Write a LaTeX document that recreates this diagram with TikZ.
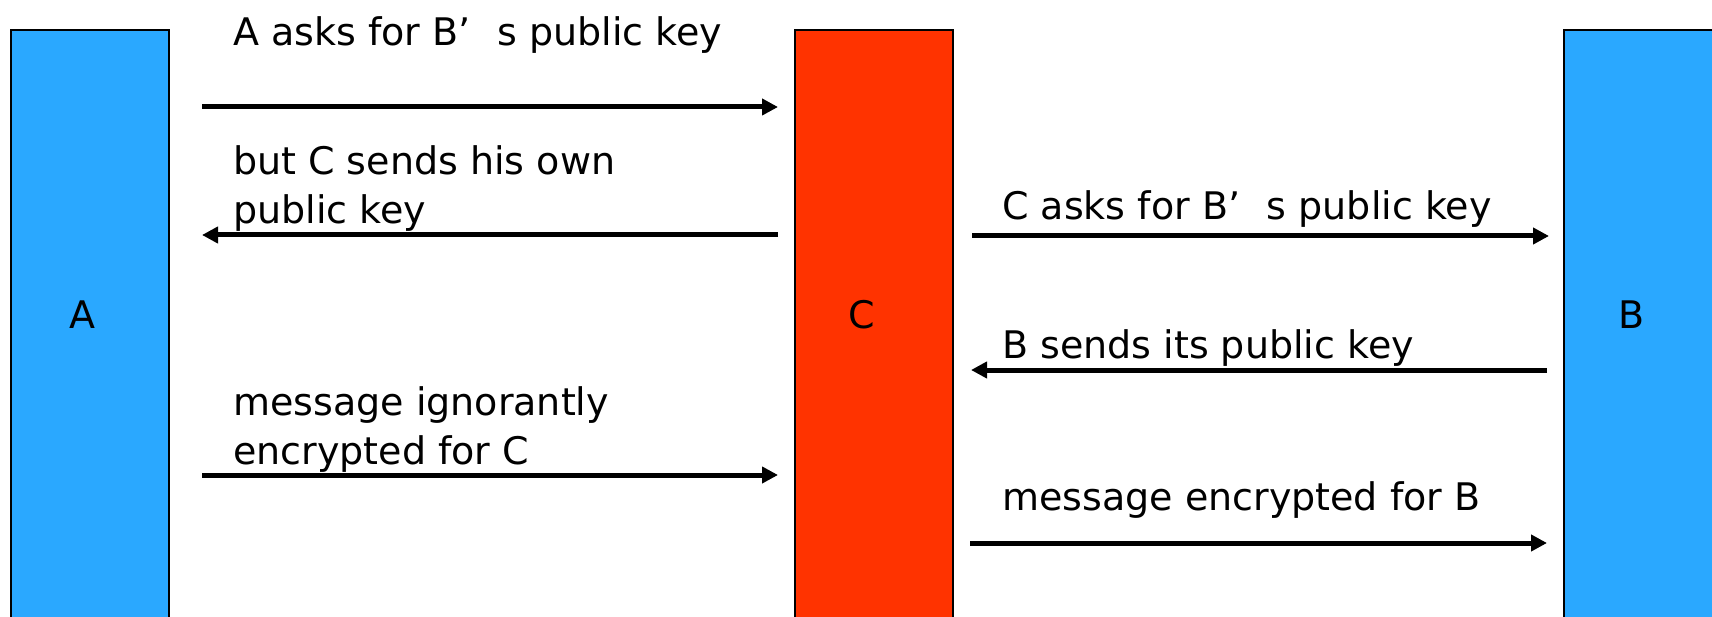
\documentclass[tikz,border=0pt]{standalone}
\usepackage{fontspec}
\setmainfont{DejaVu Sans}
\usetikzlibrary{arrows.meta}
\definecolor{partyblue}{HTML}{2AA8FF}
\definecolor{attackred}{HTML}{FF3300}
\tikzset{
  party/.style={draw=black, line width=2pt, minimum width=158pt, minimum height=640pt, inner sep=0pt, anchor=north},
  msg/.style={line width=5pt, -{Triangle[length=16pt,width=16pt]}},
  txt/.style={anchor=base west, inner sep=0pt, align=left, font=\fontsize{38}{49}\selectfont},
  who/.style={anchor=base, inner sep=0pt, font=\fontsize{38}{49}\selectfont}
}
\begin{document}
\begin{tikzpicture}[x=1pt,y=-1pt]
\clip (0,0) rectangle (1712,617);
\fill[white] (0,0) rectangle (1712,617);
\node[party, fill=partyblue] (A) at (90,29.5) {};
\node[party, fill=attackred] (C) at (873.5,29.5) {};
\node[party, fill=partyblue] (B) at (1642.5,29.5) {};
\node[who] (Alab) at (82,329) {A};
\node[who] (Clab) at (862,329) {C};
\node[who] (Blab) at (1632,329) {B};
% text (multi-line nodes are anchored at the baseline of their last line)
\node[txt] (t1) at (233,46) {A asks for B’\hspace{0.7em}s public key};
\node[txt] (t2) at (233,224) {but C sends his own\\public key};
\node[txt] (t3) at (233,464) {message ignorantly\\encrypted for C};
\node[txt] (t4) at (1002,219.5) {C asks for B’\hspace{0.7em}s public key};
\node[txt] (t5) at (1002,358) {B sends its public key};
\node[txt] (t6) at (1002,510) {message encrypted for B};
% arrow end points
\coordinate (a1s) at (202,107); \coordinate (a1e) at (778,107);
\coordinate (a2s) at (778,235); \coordinate (a2e) at (202,235);
\coordinate (a3s) at (202,475); \coordinate (a3e) at (778,475);
\coordinate (a4s) at (972,236); \coordinate (a4e) at (1549,236);
\coordinate (a5s) at (1547,370); \coordinate (a5e) at (971,370);
\coordinate (a6s) at (970,543); \coordinate (a6e) at (1547,543);
\draw[msg] (a1s) -- (a1e);
\draw[msg] (a2s) -- (a2e);
\draw[msg] (a3s) -- (a3e);
\draw[msg] (a4s) -- (a4e);
\draw[msg] (a5s) -- (a5e);
\draw[msg] (a6s) -- (a6e);
\end{tikzpicture}
\end{document}
